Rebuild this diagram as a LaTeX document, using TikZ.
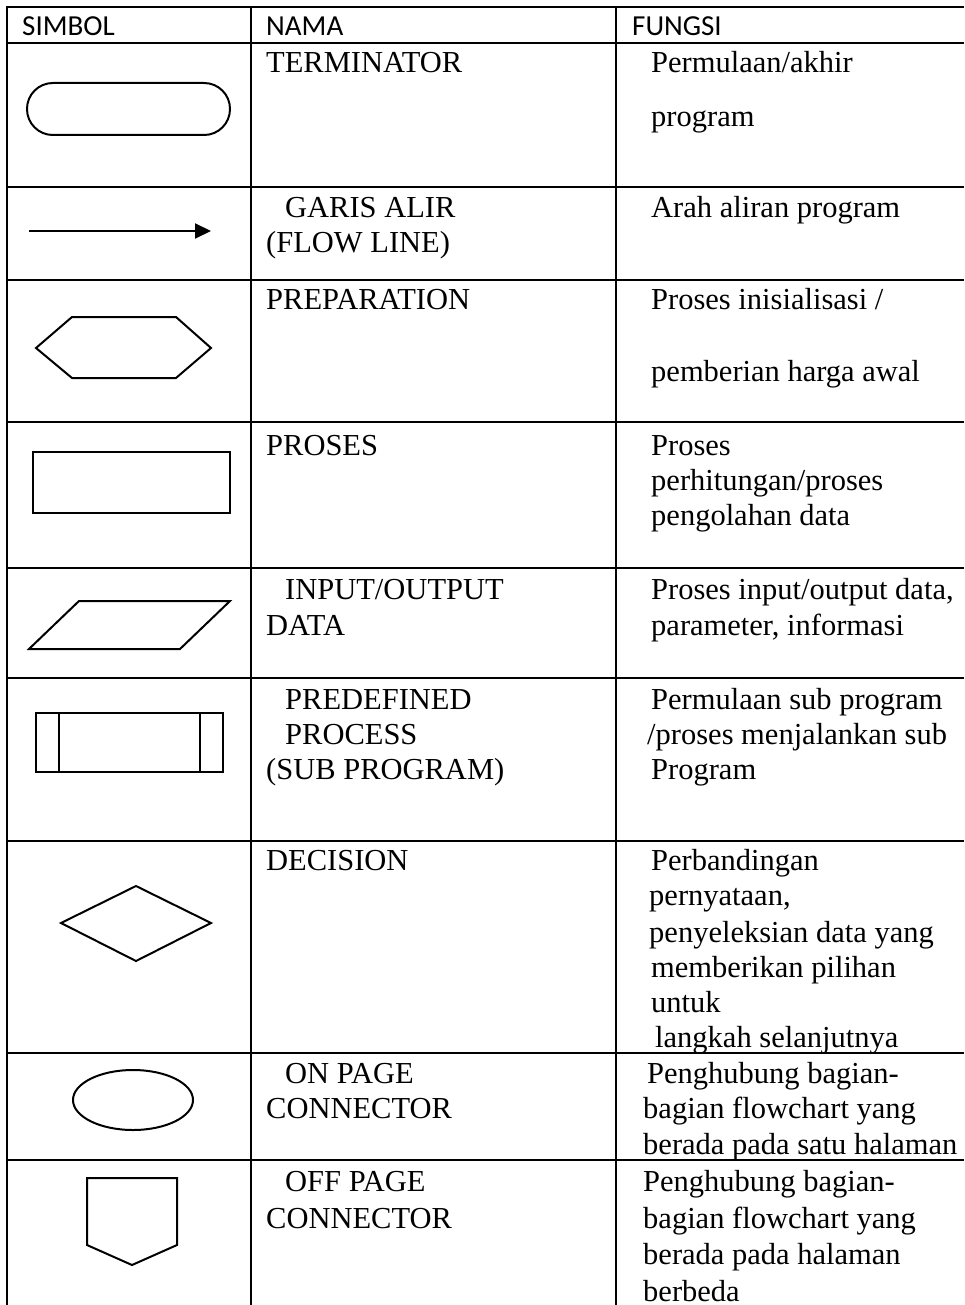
\documentclass[tikz,border=0pt]{standalone}
\usepackage{fontspec}
\setmainfont{Liberation Serif}
\newfontfamily\hdrfont{Carlito}
\usetikzlibrary{arrows.meta}
\begin{document}
\begin{tikzpicture}[x=1pt,y=-1pt,
  grid/.style={line width=2pt},
  shp/.style={line width=2pt, line join=miter},
  hdr/.style={anchor=base west, inner sep=0pt, font=\hdrfont\fontsize{29}{34}\selectfont},
  txt/.style={anchor=base west, inner sep=0pt, font=\fontsize{30.5}{35}\selectfont}]
\useasboundingbox (0,0) rectangle (964,1305);
% table grid
\foreach \y in {7,43,187,280,422,568,678,841,1053,1160}
  \draw[grid] (6,\y) -- (964,\y);
\foreach \x in {7,251,616}
  \draw[grid] (\x,6) -- (\x,1305);
% header
\node[hdr] (h1) at (22,36) {SIMBOL};
\node[hdr] (h2) at (266,36) {NAMA};
\node[hdr] (h3) at (632,36) {FUNGSI};
% symbols
\draw[shp, rounded corners=25.9pt] (27,83) rectangle (230,135);
\coordinate (a1) at (29,231);
\coordinate (a2) at (211,231);
\draw[shp, -{Triangle[length=16pt,width=15pt]}] (a1) -- (a2);
\draw[shp] (36,348) -- (72,317) -- (176,317) -- (211,348) -- (176,378) -- (72,378) -- cycle;
\draw[shp] (33,452) rectangle (230,513);
\draw[shp] (79,601) -- (230,601) -- (180,649) -- (29,649) -- cycle;
\draw[shp] (36,713) rectangle (223,772);
\draw[shp] (59,713) -- (59,772);
\draw[shp] (200,713) -- (200,772);
\draw[shp] (61,923) -- (136,886) -- (211,923) -- (136,961) -- cycle;
\draw[shp] (133,1100) ellipse [x radius=60, y radius=30];
\draw[shp] (87,1178) -- (177,1178) -- (177,1245) -- (132,1265) -- (87,1245) -- cycle;
% NAMA column
\node[txt] (n1) at (266,73) {TERMINATOR};
\node[txt] (n2a) at (285,218) {GARIS ALIR};
\node[txt] (n2b) at (266,253) {(FLOW LINE)};
\node[txt] (n3) at (266,309) {PREPARATION};
\node[txt] (n4) at (266,455) {PROSES};
\node[txt] (n5a) at (285,599) {INPUT/OUTPUT};
\node[txt] (n5b) at (266,635) {DATA};
\node[txt] (n6a) at (285,709) {PREDEFINED};
\node[txt] (n6b) at (285,744) {PROCESS};
\node[txt] (n6c) at (266,779) {(SUB PROGRAM)};
\node[txt] (n7) at (266,870) {DECISION};
\node[txt] (n8a) at (285,1083) {ON PAGE};
\node[txt] (n8b) at (266,1118) {CONNECTOR};
\node[txt] (n9a) at (285,1191) {OFF PAGE};
\node[txt] (n9b) at (266,1228) {CONNECTOR};
% FUNGSI column
\node[txt] (f1a) at (651,73) {Permulaan/akhir};
\node[txt] (f1b) at (651,127) {program};
\node[txt] (f2) at (651,218) {Arah aliran program};
\node[txt] (f3a) at (651,309) {Proses inisialisasi /};
\node[txt] (f3b) at (651,381) {pemberian harga awal};
\node[txt] (f4a) at (651,455) {Proses};
\node[txt] (f4b) at (651,490) {perhitungan/proses};
\node[txt] (f4c) at (651,525) {pengolahan data};
\node[txt] (f5a) at (651,599) {Proses input/output data,};
\node[txt] (f5b) at (651,635) {parameter, informasi};
\node[txt] (f6a) at (651,709) {Permulaan sub program};
\node[txt] (f6b) at (647,744) {/proses menjalankan sub};
\node[txt] (f6c) at (651,779) {Program};
\node[txt] (f7a) at (651,870) {Perbandingan};
\node[txt] (f7b) at (649,905) {pernyataan,};
\node[txt] (f7c) at (649,942) {penyeleksian data yang};
\node[txt] (f7d) at (651,977) {memberikan pilihan};
\node[txt] (f7e) at (651,1012) {untuk};
\node[txt] (f7f) at (655,1047) {langkah selanjutnya};
\node[txt] (f8a) at (647,1083) {Penghubung bagian-};
\node[txt] (f8b) at (643,1118) {bagian flowchart yang};
\node[txt] (f8c) at (643,1154) {berada pada satu halaman};
\node[txt] (f9a) at (643,1191) {Penghubung bagian-};
\node[txt] (f9b) at (643,1228) {bagian flowchart yang};
\node[txt] (f9c) at (643,1264) {berada pada halaman};
\node[txt] (f9d) at (643,1301) {berbeda};
\end{tikzpicture}
\end{document}
